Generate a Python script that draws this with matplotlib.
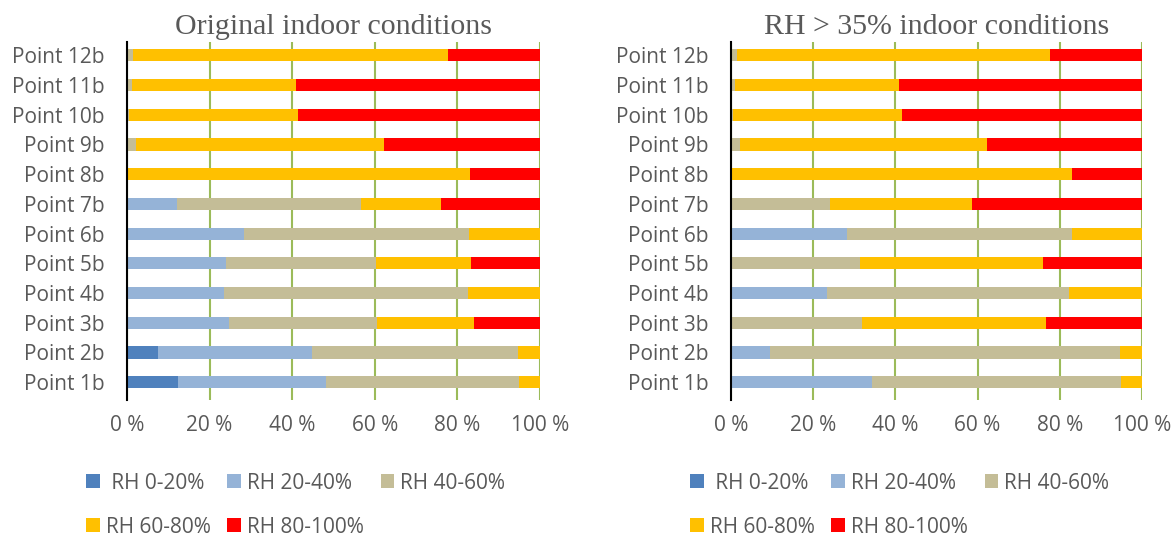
import numpy as np
import matplotlib
matplotlib.use("Agg")
import matplotlib.pyplot as plt

points = ["Point 1b", "Point 2b", "Point 3b", "Point 4b", "Point 5b", "Point 6b",
          "Point 7b", "Point 8b", "Point 9b", "Point 10b", "Point 11b", "Point 12b"]
series = [" RH 0-20%", "RH 20-40%", "RH 40-60%", "RH 60-80%", "RH 80-100%"]
colors = ["#4F81BD", "#95B3D7", "#C4BD97", "#FFC000", "#FF0000"]

# share of time (%) in each RH band, Point 1b .. Point 12b
orig_rh0_20 = [12.3, 7.6, 0, 0, 0, 0, 0, 0, 0, 0, 0, 0]
orig_rh20_40 = [35.8, 37.1, 24.6, 23.4, 23.9, 28.4, 12.2, 0, 0, 0, 0, 0]
orig_rh40_60 = [46.8, 49.9, 35.9, 59.1, 36.3, 54.5, 44.4, 0, 2.1, 0.5, 1.1, 1.5]
orig_rh60_80 = [5.1, 5.4, 23.6, 17.5, 23.1, 17.1, 19.5, 83.0, 60.2, 41.0, 39.8, 76.2]
orig_rh80_100 = [0, 0, 15.9, 0, 16.7, 0, 23.9, 17.0, 37.7, 58.5, 59.1, 22.3]

rh35_rh0_20 = [0, 0, 0, 0, 0, 0, 0, 0, 0, 0, 0, 0]
rh35_rh20_40 = [34.2, 9.4, 0, 23.3, 0, 28.2, 0, 0, 0, 0, 0, 0]
rh35_rh40_60 = [60.6, 85.2, 31.8, 58.9, 31.3, 54.7, 24.2, 0, 2.1, 0.5, 0.9, 1.4]
rh35_rh60_80 = [5.2, 5.4, 44.8, 17.8, 44.5, 17.1, 34.4, 82.9, 60.2, 41.0, 39.9, 76.1]
rh35_rh80_100 = [0, 0, 23.4, 0, 24.2, 0, 41.4, 17.1, 37.7, 58.5, 59.2, 22.5]

xticks = [0, 20, 40, 60, 80, 100]
xlabels = ["0 %", "20 %", "40 %", "60 %", "80 %", "100 %"]

gray = "#595959"
plt.rcParams["font.family"] = ["Open Sans", "DejaVu Sans"]

fig = plt.figure(figsize=(11.75, 5.36), dpi=100)

panels = [
    ("Original indoor conditions", 127 / 1175, 540 / 1175,
     [orig_rh0_20, orig_rh20_40, orig_rh40_60, orig_rh60_80, orig_rh80_100]),
    ("RH > 35% indoor conditions", 731 / 1175, 1142 / 1175,
     [rh35_rh0_20, rh35_rh20_40, rh35_rh40_60, rh35_rh60_80, rh35_rh80_100]),
]

for title, x0, x1, data in panels:
    ax = fig.add_axes([x0, 1 - 400 / 536, x1 - x0, (400 - 42) / 536])
    y = np.arange(len(points))
    left = np.zeros(len(points))
    handles = []
    for vals, col, name in zip(data, colors, series):
        vals = np.array(vals, dtype=float)
        b = ax.barh(y, vals, left=left, height=0.41, color=col, label=name, linewidth=0)
        handles.append(b)
        left = left + vals

    ax.set_xlim(0, 100)
    ax.set_ylim(-0.6, 11.45)
    ax.set_yticks(y)
    ax.set_yticklabels(points)
    ax.set_xticks(xticks)
    ax.set_xticklabels(xlabels)
    ax.tick_params(axis="both", length=0, labelsize=15, colors=gray)
    ax.tick_params(axis="y", pad=16)
    ax.tick_params(axis="x", pad=11)
    ax.xaxis.grid(True, color="#9BBB59", linewidth=1.5)
    ax.set_axisbelow(True)
    for s in ["top", "right", "bottom"]:
        ax.spines[s].set_visible(False)
    ax.spines["left"].set_color("black")
    ax.spines["left"].set_linewidth(1.5)
    ax.spines["left"].set_zorder(5)
    ax.set_title(title, family="Liberation Serif", fontsize=21.5, color=gray, pad=6)

    # legend laid out row by row: 3 on first line, 2 on second
    order = [0, 3, 1, 4, 2]
    leg = fig.legend([handles[i] for i in order], [series[i] for i in order],
                     loc="upper left", bbox_to_anchor=(x0 - 41 / 1175, 0.118),
                     ncol=3, frameon=False, fontsize=15, labelcolor=gray,
                     handlelength=0.65, handleheight=0.65, handletextpad=0.3,
                     columnspacing=0.8, labelspacing=1.1, borderpad=0, borderaxespad=0)

fig.savefig("out.png", dpi=100)
